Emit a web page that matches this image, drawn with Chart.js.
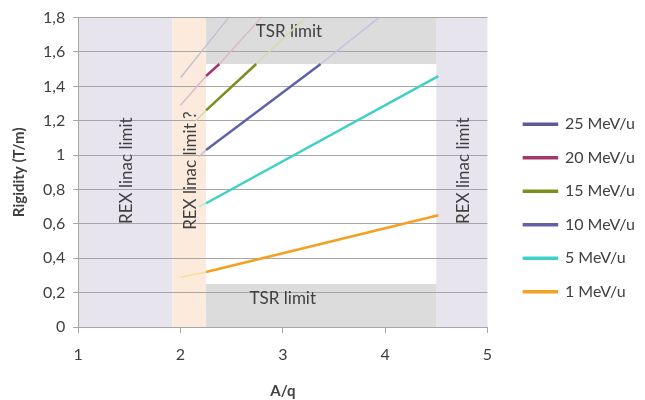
<!DOCTYPE html>
<html lang="en">
  <head>
    <meta charset="UTF-8" />
    <title>Rigidity vs A/q</title>
    <script src="https://cdn.jsdelivr.net/npm/chart.js@4.4.0/dist/chart.umd.min.js"></script>
    <style>
      body { margin: 0; background: #fff; }
      #wrap { width: 645px; height: 400px; }
    </style>
  </head>
  <body>
    <div id="wrap"><canvas id="myChart" width="645" height="400"></canvas></div>
    <script>
      // energies, legend order top to bottom
      const seriesNames = ['25 MeV/u', '20 MeV/u', '15 MeV/u', '10 MeV/u', '5 MeV/u', '1 MeV/u'];
      // A/q and rigidity (T/m), one list per energy
      const seriesAq = [
        [2.0, 2.47],
        [2.0, 2.25, 2.38, 2.79],
        [2.15, 2.25, 2.74, 3.22],
        [2.18, 2.25, 3.37, 3.94],
        [2.18, 2.25, 4.52],
        [2.0, 2.25, 4.52]
      ];
      const seriesRigidity = [
        [1.45, 1.8],
        [1.29, 1.46, 1.53, 1.8],
        [1.20, 1.26, 1.53, 1.8],
        [0.99, 1.03, 1.53, 1.8],
        [0.70, 0.72, 1.46],
        [0.29, 0.32, 0.65]
      ];
      // index range of the solid (allowed) part of each line, null = all faded
      const solidPart = [null, [1, 2], [1, 2], [1, 2], [1, 2], [1, 2]];

      const solidColors = ['#5b5b98', '#a3386a', '#7f8c1f', '#6062a8', '#3fd0c6', '#f5a023'];
      const fadedColors = ['#c4bfd3', '#dbb9c9', '#d3dcaa', '#c1c2dd', '#a9e6df', '#fbdc9c'];

      // shaded limits, in A/q and rigidity
      const rexLeft = [1, 1.92];
      const rexQuestion = [1.92, 2.25];
      const rexRight = [4.5, 5];
      const tsrAq = [2.25, 4.5];
      const tsrTop = [1.53, 1.8];
      const tsrBottom = [0, 0.25];

      const xTicks = [1, 2, 3, 4, 5];
      const yTicks = [0, 0.2, 0.4, 0.6, 0.8, 1, 1.2, 1.4, 1.6, 1.8];

      const font = 'Lato, "Open Sans", sans-serif';
      const textColor = '#404040';
      const gridColor = '#a6a6a6';

      const datasets = seriesNames.map((name, i) => {
        const span = solidPart[i];
        const isSolid = c => span && c.p0DataIndex >= span[0] && c.p1DataIndex <= span[1];
        return {
          label: name,
          data: seriesAq[i].map((a, j) => ({ x: a, y: seriesRigidity[i][j] })),
          borderColor: solidColors[i],
          backgroundColor: solidColors[i],
          borderWidth: 2.5,
          pointRadius: 0,
          fill: false,
          segment: {
            borderColor: c => isSolid(c) ? solidColors[i] : fadedColors[i],
            borderWidth: c => isSolid(c) ? 2.5 : 1.5
          }
        };
      });

      // shaded boxes go under the grid, texts on top of them
      const limitsPlugin = {
        id: 'limits',
        beforeDraw(chart) {
          const { ctx, scales } = chart;
          const x = scales.x, y = scales.y;
          const box = (xr, yr, color) => {
            const l = x.getPixelForValue(xr[0]), r = x.getPixelForValue(xr[1]);
            const t = y.getPixelForValue(yr[1]), b = y.getPixelForValue(yr[0]);
            ctx.fillStyle = color;
            ctx.fillRect(l, t, r - l, b - t);
          };
          ctx.save();
          box(rexLeft, [0, 1.8], '#e8e4ee');
          box(rexQuestion, [0, 1.8], '#fcebdc');
          box(rexRight, [0, 1.8], '#e8e4ee');
          box(tsrAq, tsrTop, '#dcdcdc');
          box(tsrAq, tsrBottom, '#dcdcdc');
          ctx.restore();
        },
        beforeDatasetsDraw(chart) {
          const { ctx, scales } = chart;
          const x = scales.x, y = scales.y;
          ctx.save();
          ctx.fillStyle = textColor;
          ctx.font = '17px ' + font;
          ctx.textAlign = 'center';
          ctx.textBaseline = 'middle';
          const vText = (txt, xv, yv) => {
            ctx.save();
            ctx.translate(x.getPixelForValue(xv), y.getPixelForValue(yv));
            ctx.rotate(-Math.PI / 2);
            ctx.fillText(txt, 0, 0);
            ctx.restore();
          };
          vText('REX linac limit', 1.47, 0.91);
          vText('REX linac limit ?', 2.1, 0.91);
          vText('REX linac limit', 4.77, 0.91);
          ctx.fillText('TSR limit', x.getPixelForValue(3.06), y.getPixelForValue(1.72));
          ctx.fillText('TSR limit', x.getPixelForValue(3.0), y.getPixelForValue(0.165));
          ctx.restore();
        }
      };

      const ctx = document.getElementById('myChart').getContext('2d');
      const myChart = new Chart(ctx, {
        type: 'line',
        data: { datasets },
        plugins: [limitsPlugin],
        options: {
          responsive: false,
          animation: false,
          layout: { padding: { top: 16, right: 0, left: 10, bottom: 0 } },
          plugins: {
            tooltip: { enabled: false },
            legend: {
              position: 'right',
              align: 'center',
              labels: {
                boxWidth: 33,
                boxHeight: 1,
                padding: 17.5,
                color: textColor,
                font: { family: font, size: 16 }
              }
            }
          },
          scales: {
            x: {
              type: 'linear',
              min: 1,
              max: 5,
              afterBuildTicks: s => { s.ticks = xTicks.map(v => ({ value: v })); },
              grid: { drawOnChartArea: false, drawTicks: true, tickLength: 6, color: gridColor },
              border: { color: gridColor },
              ticks: { color: textColor, padding: 12.4, font: { family: font, size: 16 } },
              title: {
                display: true,
                text: 'A/q',
                color: textColor,
                padding: { top: 5, bottom: 0 },
                font: { family: font, size: 15, weight: 'bold' }
              }
            },
            y: {
              min: 0,
              max: 1.8,
              afterBuildTicks: s => { s.ticks = yTicks.map(v => ({ value: v })); },
              grid: { color: gridColor, drawTicks: true, tickLength: 5 },
              border: { color: gridColor },
              ticks: {
                color: textColor,
                padding: 8,
                font: { family: font, size: 16 },
                callback: v => String(Number(v.toFixed(1))).replace('.', ',')
              },
              title: {
                display: true,
                text: 'Rigidity (T/m)',
                color: textColor,
                padding: { top: 0, bottom: 7 },
                font: { family: font, size: 15, weight: 'bold' }
              }
            },
            // hidden axis, only keeps a gap between the plot and the legend
            gap: {
              position: 'right',
              display: false,
              min: 0,
              max: 1,
              afterFit: s => { s.width = 19; }
            }
          }
        }
      });
    </script>
  </body>
</html>
